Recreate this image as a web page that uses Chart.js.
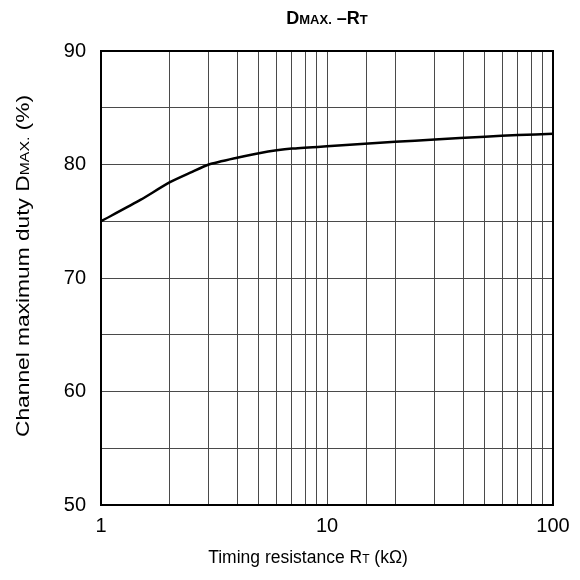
<!DOCTYPE html>
<html>
<head>
<meta charset="utf-8">
<script src="https://cdn.jsdelivr.net/npm/chart.js@4"></script>
<style>
  html, body { margin: 0; padding: 0; background: #fff; }
  #wrap { width: 580px; height: 580px; }
</style>
</head>
<body>
<div id="wrap"><canvas id="chart" width="580" height="580"></canvas></div>
<script>
// curve
var resistance = [1, 1.5, 2, 2.5, 3, 4, 5, 7, 10, 20, 30, 50, 70, 100];
var dutyMax = [75.0, 76.9, 78.4, 79.3, 80.0, 80.6, 81.0, 81.4, 81.6, 82.0, 82.2, 82.45, 82.6, 82.7];
var xLabels = [1, 10, 100];
var yLabels = [50, 60, 70, 80, 90];

var FONT = '"Liberation Sans", Arial, sans-serif';

// draws text made of parts with different fonts (for the small-cap subscripts)
// stretchTo: optional total width, the text is scaled horizontally to fit it
function drawParts(ctx, parts, x, y, stretchTo) {
    var total = 0;
    parts.forEach(function (p) {
        ctx.font = p.font;
        total += ctx.measureText(p.text).width;
    });
    var sx = stretchTo ? stretchTo / total : 1;
    ctx.save();
    ctx.translate(x, y);
    ctx.scale(sx, 1);
    var start = -total / 2;
    ctx.textAlign = 'left';
    ctx.textBaseline = 'alphabetic';
    parts.forEach(function (p) {
        ctx.font = p.font;
        ctx.fillText(p.text, start, 0);
        start += ctx.measureText(p.text).width;
    });
    ctx.restore();
}

var titlesPlugin = {
    id: 'titles',
    afterDraw: function (chart) {
        var ctx = chart.ctx;
        var area = chart.chartArea;
        ctx.save();
        ctx.fillStyle = '#000';

        // chart title
        drawParts(ctx, [
            { text: 'D', font: 'bold 18px ' + FONT },
            { text: 'MAX.', font: 'bold 13px ' + FONT },
            { text: ' \u2013R', font: 'bold 18px ' + FONT },
            { text: 'T', font: 'bold 13px ' + FONT }
        ], (area.left + area.right) / 2, 24);

        // x axis title
        drawParts(ctx, [
            { text: 'Timing resistance R', font: '17.5px ' + FONT },
            { text: 'T', font: '12px ' + FONT },
            { text: ' (k\u03A9)', font: '17.5px ' + FONT }
        ], 308, 563);

        // y axis title
        ctx.translate(29, 266);
        ctx.rotate(-Math.PI / 2);
        drawParts(ctx, [
            { text: 'Channel maximum duty D', font: '18px ' + FONT },
            { text: 'MAX.', font: '12.5px ' + FONT },
            { text: ' (%)', font: '18px ' + FONT }
        ], 0, 0, 342);
        ctx.restore();
    }
};

var points = resistance.map(function (r, i) { return { x: r, y: dutyMax[i] }; });

new Chart(document.getElementById('chart'), {
    type: 'line',
    data: {
        datasets: [{
            data: points,
            borderColor: '#000',
            borderWidth: 2.5,
            pointRadius: 0,
            tension: 0.2,
            fill: false
        }]
    },
    options: {
        responsive: false,
        animation: false,
        layout: { padding: { left: 0, top: 51, right: 27, bottom: 0 } },
        plugins: {
            legend: { display: false },
            tooltip: { enabled: false }
        },
        scales: {
            x: {
                type: 'logarithmic',
                min: 1,
                max: 100,
                afterFit: function (scale) { scale.height = 75; },
                grid: { color: '#4a4a4a', lineWidth: 1, drawTicks: false },
                border: { color: '#000', width: 2 },
                ticks: {
                    autoSkip: false,
                    maxRotation: 0,
                    padding: 9,
                    color: '#000',
                    font: { family: FONT, size: 20 },
                    callback: function (v) {
                        return xLabels.indexOf(v) >= 0 ? String(v) : '';
                    }
                }
            },
            y: {
                min: 50,
                max: 90,
                afterFit: function (scale) { scale.width = 101; },
                grid: { color: '#4a4a4a', lineWidth: 1, drawTicks: false },
                border: { color: '#000', width: 2 },
                ticks: {
                    stepSize: 5,
                    padding: 15,
                    color: '#000',
                    font: { family: FONT, size: 20 },
                    callback: function (v) {
                        return yLabels.indexOf(v) >= 0 ? String(v) : '';
                    }
                }
            }
        }
    },
    plugins: [titlesPlugin, {
        id: 'frame',
        afterDatasetsDraw: function (chart) {
            var a = chart.chartArea;
            var ctx = chart.ctx;
            ctx.save();
            ctx.strokeStyle = '#000';
            ctx.lineWidth = 2;
            ctx.strokeRect(a.left, a.top, a.right - a.left, a.bottom - a.top);
            ctx.restore();
        }
    }]
});
</script>
</body>
</html>
